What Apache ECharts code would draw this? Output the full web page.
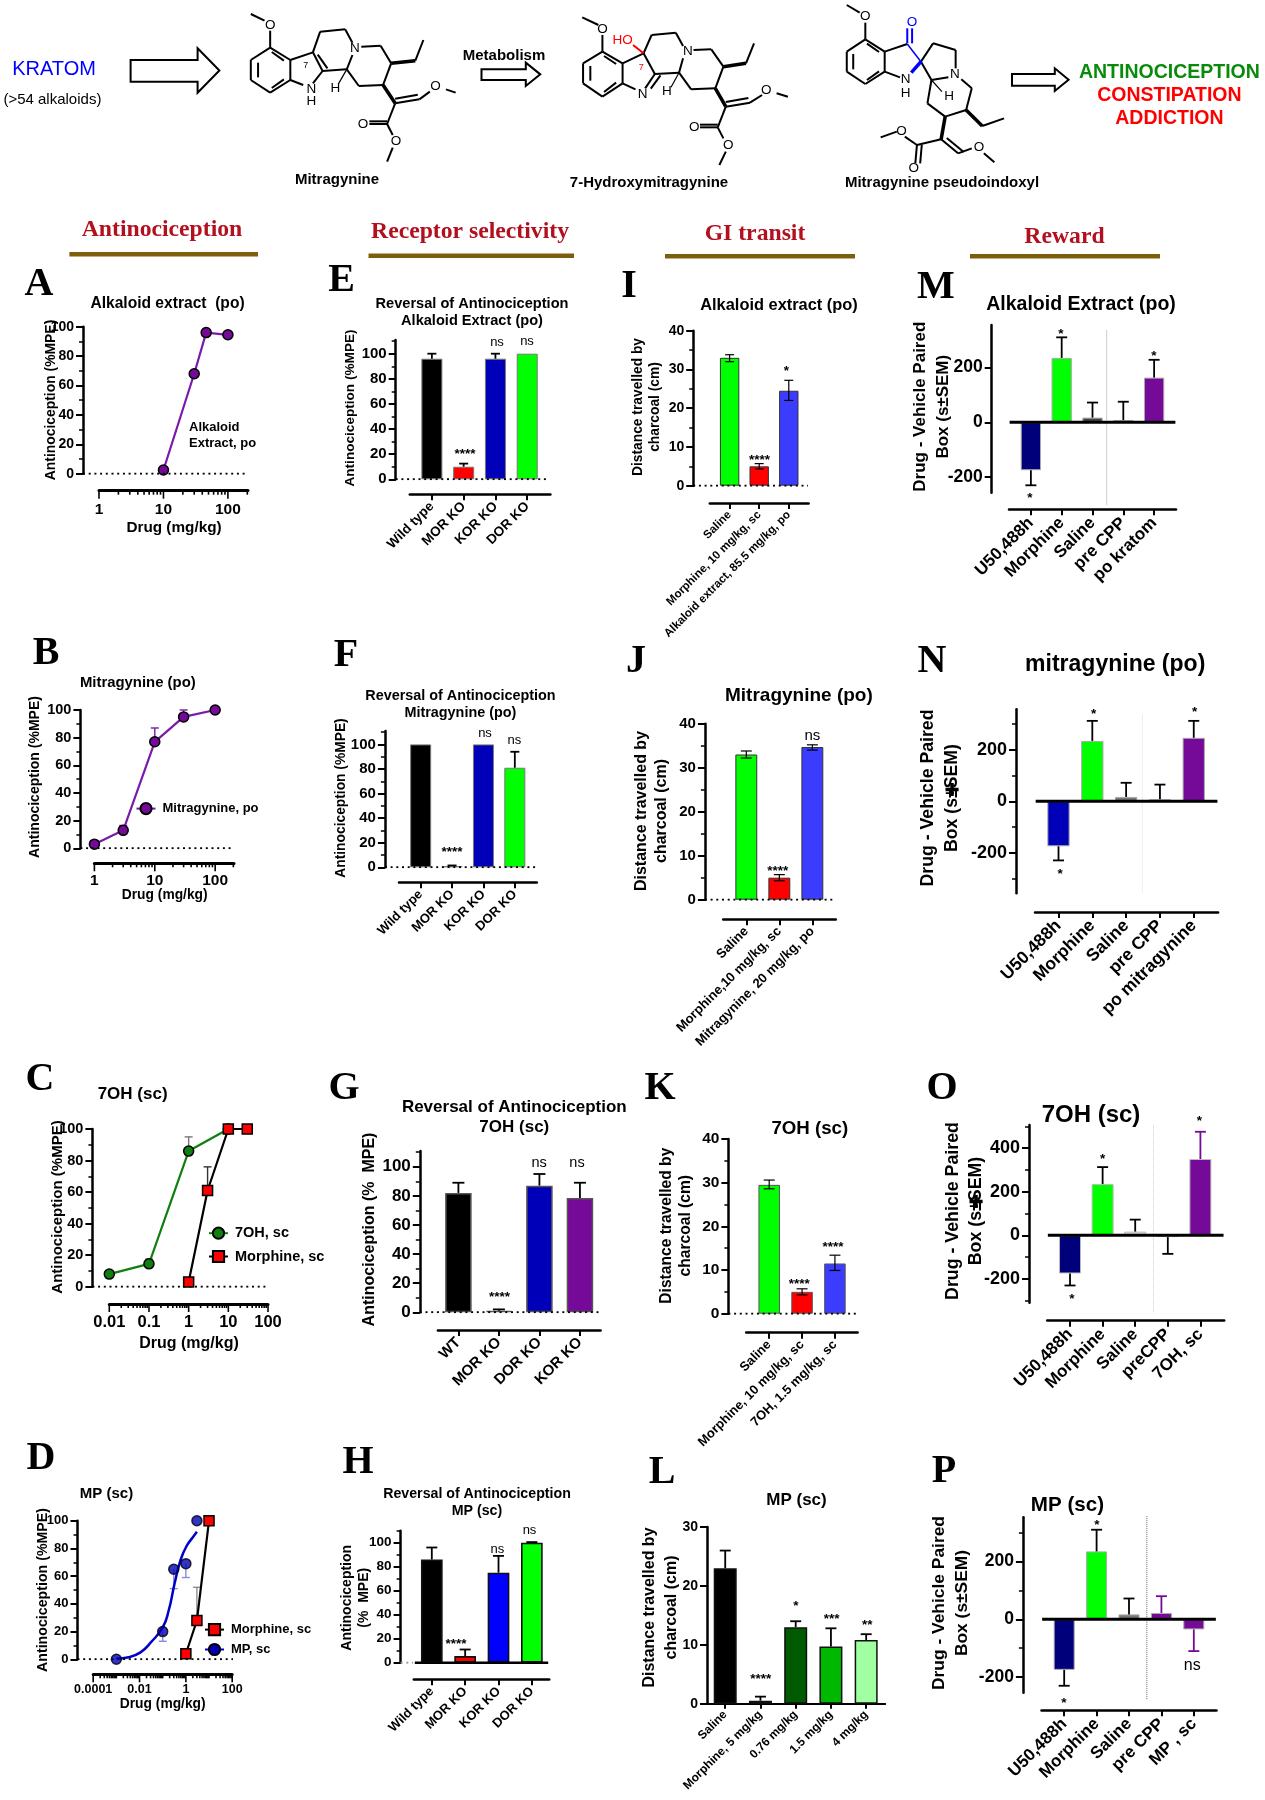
<!DOCTYPE html>
<html><head><meta charset="utf-8">
<style>html,body{margin:0;padding:0;background:#fff}#c{width:1265px;height:1800px}</style>
<script src="https://cdn.jsdelivr.net/npm/echarts@6/dist/echarts.min.js"></script>
</head><body><div id="c"></div>
<script>
// ---------- data ----------
const alkX=[10,30,46,100], alkY=[2.5,68,96,94.5];
const mitX=[1,3,10,30,100], mitY=[3,13,77,95,100], mitUp=[3,16.5,87,100,100];
const ohX=[0.01,0.1,1,10], ohY=[8,14.5,86,100], ohUp=[8,17.5,95,100];
const morCX=[1,3,10,30], morCY=[3,61,100,100], morCUp=[3,76,100,100];
const mpX=[0.001,0.1,0.3,1,3], mpY=[0,20,65,69,100], mpLow=[0,13,51,59,100];
const mpCurveX=[0.001,0.0034,0.011,0.03,0.1,0.18,0.33,0.6,1.1,2,3], mpCurveY=[0.5,1.5,5,12,23,35,55,72,82,88,92];
const morDX=[1,3,10], morDY=[4,28,100], morDUp=[4,52,100];

const koA=['Wild type','MOR KO','KOR KO','DOR KO'], koG=['WT','MOR KO','DOR KO','KOR KO'];
const eVal=[96,10,96,100], eUp=[100,12.5,100,100];
const fVal=[100,1,100,81], fUp=[100,1.5,100,94];
const gVal=[82,1,87,78.5], gUp=[89,2,95,89];
const hVal=[86,5.5,75,100], hUp=[96,11,89,100.5];

const iCat=['Saline','Morphine, 10 mg/kg, sc','Alkaloid extract, 85.5 mg/kg, po'];
const iVal=[33,5,24.5], iLo=[32,4.3,22], iHi=[33.8,5.7,27.2];
const jCat=['Saline','Morphine,10 mg/kg, sc','Mitragynine, 20 mg/kg, po'];
const jVal=[33,5,34.7], jLo=[32.2,4.3,34], jHi=[33.8,5.7,35.2];
const kCat=['Saline','Morphine, 10 mg/kg, sc','7OH, 1.5 mg/kg, sc'];
const kVal=[29.5,5,11.5], kLo=[28.6,4.3,9.9], kHi=[30.6,5.7,13.4];
const lCat=['Saline','Morphine, 5 mg/kg','0.76 mg/kg','1.5 mg/kg','4 mg/kg'];
const lVal=[23,0.5,13,9.7,10.8], lUp=[26,1.2,14,12.8,11.8];

const mCat=['U50,488h','Morphine','Saline','pre CPP','po kratom'];
const mVal=[-175,235,17,8,163], mErr=[-230,310,72,75,228];
const nCat=['U50,488h','Morphine','Saline','pre CPP','po mitragynine'];
const nVal=[-175,235,17,8,247], nErr=[-230,313,72,65,313];
const oCat=['U50,488h','Morphine','Saline','preCPP','7OH, sc'];
const oVal=[-175,235,17,-8,350], oErr=[-230,313,72,-85,475];
const pCat=['U50,488h','Morphine','Saline','pre CPP','MP , sc'];
const pVal=[-175,235,17,22,-35], pErr=[-230,310,72,80,-110];

const mpeMajor=[0,20,40,60,80,100], mpeMinor=[0,10,20,30,40,50,60,70,80,90,100,110];
const dist40=[0,10,20,30,40], dist40Minor=[0,5,10,15,20,25,30,35,40];
const GREEN='#00ff00',RED='#ff0000',BLUE='#0000b8',PUR='#760a98',NAVY='#00007a',VIOB='#3c3cff';

// ---------- option builders ----------
const SANS='"Liberation Sans",Arial,sans-serif', SERIF='"Liberation Serif","Times New Roman",serif';
const grid=[],xAxis=[],yAxis=[],series=[],els=[];

function T(x,y,text,size,o={}){
  els.push({type:'text',x,y,rotation:(o.r||0)*Math.PI/180,silent:true,z:o.z||20,
    style:{text,fill:o.c||'#000',font:`${o.w||'bold'} ${size}px ${o.f||SANS}`,
      align:o.a||'center',verticalAlign:'middle',textAlign:o.a||'center',textVerticalAlign:'middle',lineHeight:o.lh||Math.round(size*1.35)}});
}
function errRender(capHalf,widthPx,colors,defColor){
  return (params,api)=>{
    const both=api.value(3);
    if(api.value(1)===api.value(2)&&!both) return;
    const x=api.value(0),a=api.coord([x,api.value(1)]),b=api.coord([x,api.value(2)]);
    const stroke=(colors&&colors[params.dataIndex])||defColor||'#000', st={stroke,lineWidth:widthPx};
    const ch=[{type:'line',shape:{x1:a[0],y1:a[1],x2:b[0],y2:b[1]},style:st},
      {type:'line',shape:{x1:b[0]-capHalf,y1:b[1],x2:b[0]+capHalf,y2:b[1]},style:st}];
    if(both)ch.push({type:'line',shape:{x1:a[0]-capHalf,y1:a[1],x2:a[0]+capHalf,y2:a[1]},style:st});
    return {type:'group',children:ch};
  };
}
function frame(p){
  const gi=grid.length, xi=xAxis.length, yi=yAxis.length, h=p.bot-p.top;
  grid.push({left:p.ax,top:p.top,width:(p.dotEnd||p.xR)-p.ax,height:h});
  grid.push({left:p.xL,top:p.top,width:p.xR-p.xL,height:h});
  xAxis.push({gridIndex:gi,type:'value',min:0,max:1,show:false});
  yAxis.push({gridIndex:gi,type:'value',position:'left',min:p.ymin,max:p.ymax,splitLine:{show:false},
    axisLine:{show:true,onZero:false,lineStyle:{color:'#000',width:p.yw||2.5}},
    axisTick:{show:true,length:7,customValues:p.yMajor,lineStyle:{color:'#000',width:2}},
    axisLabel:{show:true,customValues:p.yMajor,margin:p.ym||9,color:'#000',fontFamily:SANS,fontWeight:'bold',fontSize:p.tf,showMinLabel:true,showMaxLabel:true}});
  yAxis.push({gridIndex:gi,type:'value',position:'left',min:p.ymin,max:p.ymax,splitLine:{show:false},
    axisLine:{show:false},axisLabel:{show:false},
    axisTick:{show:!!p.yMinor,length:4,customValues:p.yMinor||[],lineStyle:{color:'#000',width:1.5}}});
  yAxis.push({gridIndex:gi+1,type:'value',min:p.ymin,max:p.ymax,show:false});
  if(p.dot!==false&&p.dotEnd) series.push({type:'line',xAxisIndex:xi,yAxisIndex:yi,data:[[0,0],[1,0]],symbol:'none',silent:true,z:5,
    lineStyle:{color:p.dotColor||'#000',width:2,type:[2,3.7]}});
  return {xi:xi+1,yi:yi+2,gi:gi+1};
}
function barPanel(p){
  const f=frame(p), ticks=p.cats.map((_,i)=>i);
  const xmin=p.xmin,xmax=p.xmax;
  xAxis.push({gridIndex:f.gi,type:'value',position:'bottom',min:xmin,max:xmax,offset:p.xAxisY-p.bot,splitLine:{show:false},
    axisLine:{onZero:false,lineStyle:{color:'#000',width:p.xw||2.5}},
    axisTick:{show:true,length:p.xt||6,customValues:ticks,lineStyle:{color:'#000',width:2}},
    axisLabel:{show:true,customValues:ticks,interval:0,rotate:45,margin:p.xm||10,color:'#000',fontFamily:SANS,fontWeight:'bold',fontSize:p.lf,
      formatter:v=>p.cats[Math.round(v)],hideOverlap:false,showMinLabel:true,showMaxLabel:true}});
  series.push({type:'bar',xAxisIndex:f.xi,yAxisIndex:f.yi,barWidth:p.barW,silent:true,z:2,
    data:p.vals.map((v,i)=>({value:[i,v],itemStyle:{color:p.colors[i],borderColor:p.border||'#333',borderWidth:p.bw==null?1:p.bw}}))});
  const errs=p.vals.map((v,i)=>p.lo?[i,p.lo[i],p.hi[i],1]:[i,v,p.hi[i],0]);
  series.push({type:'custom',xAxisIndex:f.xi,yAxisIndex:f.yi,silent:true,z:3,encode:{x:0,y:[1,2]},data:errs,
    renderItem:errRender(p.cap||5.5,p.ew||1.8,p.errColors)});
  if(p.zero) series.push({type:'line',xAxisIndex:f.xi,yAxisIndex:f.yi,silent:true,z:6,symbol:'none',clip:false,
    data:[[xmin+(p.zeroPad||0),0],[xmax-(p.zeroPad||0),0]],lineStyle:{color:'#000',width:p.zero}});
  if(p.sep) series.push({type:'line',xAxisIndex:f.xi,yAxisIndex:f.yi,silent:true,z:1,symbol:'none',clip:false,
    data:[[p.sep.x,p.sep.hi],[p.sep.x,p.sep.lo]],lineStyle:{color:p.sep.c,width:p.sep.w||1,type:p.sep.t||'solid'}});
}
const decadeMult=[2,3,4,5,6,7,8,9];
function logPanel(p){
  const f=frame(p), lo=Math.log10(p.xmin), hi=Math.ceil(Math.log10(p.xmax));
  const ticks=[];
  for(let k=lo;k<=hi;k++){
    const d=Math.pow(10,k);
    const isMajor=p.labels.some(l=>Math.abs(Math.log10(l)-k)<1e-6);
    if(d<=p.xmax) ticks.push([d,isMajor?8:4]);
    decadeMult.forEach(m=>{if(m*d<=p.xmax)ticks.push([m*d,4]);});
  }
  xAxis.push({gridIndex:f.gi,type:'log',logBase:10,position:'bottom',min:p.xmin,max:p.xmax,offset:p.xAxisY-p.bot,splitLine:{show:false},
    axisLine:{onZero:false,lineStyle:{color:'#000',width:3}},axisTick:{show:false},minorTick:{show:false},
    axisLabel:{show:true,interval:0,margin:p.xm||11,color:'#000',fontFamily:SANS,fontWeight:'bold',fontSize:p.xf,showMinLabel:true,showMaxLabel:true,
      formatter:v=>{const hit=p.labels.find(l=>Math.abs(Math.log10(l)-Math.log10(v))<1e-6);return hit==null?'':String(hit);}}});
  const off=p.xAxisY-p.bot, yb=p.ymin;
  series.push({type:'custom',xAxisIndex:f.xi,yAxisIndex:f.yi,silent:true,z:3,encode:{x:0,y:1},data:ticks.map(t=>[t[0],yb,t[1]]),
    renderItem:(params,api)=>{const c=api.coord([api.value(0),yb]);const y=c[1]+off;
      return {type:'line',shape:{x1:c[0],y1:y,x2:c[0],y2:y+api.value(2)},style:{stroke:'#000',lineWidth:1.6}};}});
  (p.lines||[]).forEach(s=>{
    series.push({type:s.scatter?'scatter':'line',name:s.name,xAxisIndex:f.xi,yAxisIndex:f.yi,silent:true,clip:false,z:s.z||4,smooth:s.smooth||false,
      symbol:s.sym||'circle',showSymbol:s.noSym?false:true,symbolSize:s.size||10,
      data:s.x.map((v,i)=>[v,s.y[i]]),
      lineStyle:{color:s.line,width:s.lw||2.2},itemStyle:{color:s.fill,borderColor:'#000',borderWidth:1.5}});
    if(s.err) series.push({type:'custom',xAxisIndex:f.xi,yAxisIndex:f.yi,silent:true,z:(s.z||4)-1,encode:{x:0,y:[1,2]},
      data:s.x.map((v,i)=>[v,s.y[i],s.err[i],0]).filter(d=>d[1]!==d[2]),
      renderItem:errRender(s.errCap||4,s.errW||1.4,null,s.errC||s.line)});
  });
}

// ---------- antinociception panels ----------
logPanel({ax:83,top:326.7,bot:473.7,ymin:0,ymax:100,yMajor:mpeMajor,yMinor:mpeMinor.slice(0,11),tf:14,dotEnd:247,
  xL:99,xR:248,xAxisY:490.7,xmin:1,xmax:205,labels:[1,10,100],xf:15.5,
  lines:[{name:'Alkaloid Extract, po',x:alkX,y:alkY,line:'#7a1aa8',fill:PUR}]});
logPanel({ax:80.4,top:710,bot:848.3,ymin:0,ymax:100,yMajor:mpeMajor,yMinor:mpeMinor.slice(0,11),tf:14.5,dotEnd:233,
  xL:94.4,xR:234,xAxisY:863.3,xmin:1,xmax:205,labels:[1,10,100],xf:15.5,xm:9,
  lines:[{name:'Mitragynine, po',x:mitX,y:mitY,err:mitUp,line:'#7a1aa8',fill:PUR}]});
logPanel({ax:92.4,top:1129,bot:1286.7,ymin:0,ymax:100,yMajor:mpeMajor,yMinor:mpeMinor.slice(0,11),tf:14.5,dotEnd:268,
  xL:109.3,xR:268,xAxisY:1304,xmin:0.01,xmax:100,labels:[0.01,0.1,1,10,100],xf:16.5,xm:10,
  lines:[{name:'7OH, sc',x:ohX,y:ohY,err:ohUp,errC:'#777',line:'#0f7f0f',fill:'#0f7f0f'},
         {name:'Morphine, sc',x:morCX,y:morCY,err:morCUp,errC:'#333',sym:'rect',line:'#000',fill:RED,z:5}]});
logPanel({ax:77.5,top:1520.7,bot:1659.3,ymin:0,ymax:100,yMajor:mpeMajor,yMinor:mpeMinor.slice(0,11),tf:13,dotEnd:233,
  xL:93.2,xR:232.2,xAxisY:1674.3,xmin:0.0001,xmax:100,labels:[0.0001,0.01,1,100],xf:12.5,xm:9,
  lines:[{name:'Morphine, sc',x:morDX,y:morDY,err:morDUp,errC:'#666',errW:1,sym:'rect',line:'#000',fill:RED,z:5},
         {name:'MP, sc',x:mpCurveX,y:mpCurveY,noSym:true,smooth:true,line:'#0000c8',fill:BLUE,lw:2.5},
         {name:'MP points',scatter:true,x:mpX,y:mpY,err:mpLow,errC:'#8a8ae0',line:'#0000c8',fill:BLUE,z:5}]});

// ---------- receptor selectivity ----------
barPanel({ax:395.7,top:340,bot:479.3,ymin:0,ymax:110.9,yMajor:mpeMajor,yMinor:mpeMinor,tf:15,dotEnd:549,
  xL:409.8,xR:550.4,xAxisY:494.3,xmin:-0.695,xmax:3.73,cats:koA,lf:13.5,vals:eVal,hi:eUp,barW:21,colors:['#000',RED,BLUE,GREEN],border:'#777',cap:4.5});
barPanel({ax:384.9,top:731,bot:867.3,ymin:0,ymax:110.9,yMajor:mpeMajor,yMinor:mpeMinor,tf:15,dotEnd:536,
  xL:399,xR:536.8,xAxisY:882.3,xmin:-0.69,xmax:3.7,cats:koA,lf:13,vals:fVal,hi:fUp,barW:21,colors:['#000',RED,BLUE,GREEN],border:'#777',cap:4.5});
barPanel({ax:419.8,top:1151,bot:1312.3,ymin:0,ymax:110.8,yMajor:mpeMajor,yMinor:mpeMinor,tf:17,dotEnd:599,
  xL:437.9,xR:600.6,xAxisY:1330,xmin:-0.506,xmax:3.51,cats:koG,lf:15,vals:gVal,hi:gUp,barW:26.5,colors:['#000',RED,BLUE,PUR],border:'#555',bw:1.5,cap:6});
barPanel({ax:400.6,top:1530.7,bot:1662.7,ymin:0,ymax:110,yMajor:mpeMajor,yMinor:mpeMinor,tf:13.5,dotEnd:413,dotColor:'#999',
  xL:413.8,xR:549.2,xAxisY:1679.3,xmin:-0.54,xmax:3.52,cats:koA,lf:13,vals:hVal,hi:hUp,barW:21.7,colors:['#000',RED,'#0000ff',GREEN],border:'#111',bw:1.6,cap:5.5,zero:2.5,zeroPad:0.03});

// ---------- GI transit ----------
barPanel({ax:693.2,top:330.7,bot:485.7,ymin:0,ymax:40,yMajor:dist40,yMinor:dist40Minor,tf:14,dotEnd:808,
  xL:709.8,xR:808.6,xAxisY:503,xmin:-0.67,xmax:2.67,cats:iCat,lf:11.6,vals:iVal,lo:iLo,hi:iHi,barW:19.4,colors:[GREEN,RED,VIOB],cap:4.5,ew:1.2});
barPanel({ax:704.9,top:723.7,bot:899.7,ymin:0,ymax:40,yMajor:dist40,yMinor:dist40Minor,tf:15,dotEnd:835,
  xL:723.2,xR:835.8,xAxisY:919.3,xmin:-0.7,xmax:2.71,cats:jCat,lf:13.2,vals:jVal,lo:jLo,hi:jHi,barW:21.9,colors:[GREEN,RED,VIOB],cap:5.5,ew:1.2});
barPanel({ax:728.4,top:1139,bot:1313.7,ymin:0,ymax:40,yMajor:dist40,yMinor:dist40Minor,tf:15.5,dotEnd:857,
  xL:746.2,xR:857.6,xAxisY:1332.7,xmin:-0.7,xmax:2.69,cats:kCat,lf:13,vals:kVal,lo:kLo,hi:kHi,barW:21.5,colors:[GREEN,RED,VIOB],border:'#555',cap:5.5,ew:1.2});
barPanel({ax:707,top:1527,bot:1703.7,ymin:0,ymax:30,yMajor:[0,10,20,30],tf:14,dot:false,
  xL:707,xR:885.2,xAxisY:1703.7,xmin:-0.517,xmax:4.54,cats:lCat,lf:12,vals:lVal,hi:lUp,barW:23,colors:['#000','#0000c0','#005a00','#00b800','#a0ffa0'],border:'#111',bw:1.5,cap:5.5,xw:2,xt:5,xm:9});

// ---------- reward ----------
barPanel({ax:991.7,top:325,bot:492.7,ymin:-257,ymax:355,yMajor:[-200,0,200],tf:17.5,yw:2.5,
  xL:1009,xR:1176,xAxisY:509.3,xmin:-0.71,xmax:4.71,cats:mCat,lf:17,vals:mVal,hi:mErr,barW:20.3,colors:[NAVY,GREEN,'#444','#666',PUR],border:'#aaa',cap:5.5,zero:3,zeroPad:0.02,
  sep:{x:2.46,hi:337,lo:-302,c:'#ccc'},xm:11});
barPanel({ax:1016,top:709.3,bot:893.3,ymin:-358,ymax:358,yMajor:[-200,0,200],yMinor:[-300,-100,100,300],tf:18,
  xL:1035,xR:1218.1,xAxisY:912,xmin:-0.695,xmax:4.72,cats:nCat,lf:17.5,vals:nVal,hi:nErr,barW:22.3,colors:[BLUE,GREEN,'#777','#999',PUR],border:'#aaa',cap:5.5,zero:3,zeroPad:0.02,
  sep:{x:2.48,hi:337,lo:-357,c:'#ddd',t:'dotted'},xm:11});
barPanel({ax:1029,top:1125,bot:1302.7,ymin:-309,ymax:506,yMajor:[-200,0,200,400],yMinor:[-300,-100,100,300,500],tf:18,
  xL:1047.2,xR:1224.2,xAxisY:1320.7,xmin:-0.7,xmax:4.73,cats:oCat,lf:17,vals:oVal,hi:oErr,barW:22,colors:[NAVY,GREEN,'#ddd','#ddd',PUR],border:'#bbb',cap:5.5,zero:3,zeroPad:0.02,
  errColors:['#000','#000','#000','#000',PUR],sep:{x:2.56,hi:505,lo:-358,c:'#ccc',t:'dotted'},xm:11});
barPanel({ax:1022.9,top:1517.3,bot:1692.7,ymin:-254,ymax:353,yMajor:[-200,0,200],yMinor:[-100,100,300],tf:17.5,
  xL:1041.5,xR:1216.5,xAxisY:1710.3,xmin:-0.7,xmax:4.7,cats:pCat,lf:17,vals:pVal,hi:pErr,barW:21,colors:[NAVY,GREEN,'#777',PUR,PUR],border:'#aaa',cap:5.5,zero:3,zeroPad:0.02,
  errColors:['#000','#000','#000',PUR,PUR],sep:{x:2.55,hi:357,lo:-277,c:'#666',t:'dotted'},xm:11});

// ---------- panel text ----------
const yMPE='Antinociception (%MPE)', yDist='Distance travelled by\ncharcoal (cm)', yDrug='Drug - Vehicle Paired\nBox (s±SEM)', xDrug='Drug (mg/kg)';
[['A',39,285],['E',341.5,281],['I',629,287],['M',936,288],['B',46,654],['F',346,656],['J',636,662],['N',932,662],
 ['C',40,1080],['G',344,1089],['K',660,1089],['O',942,1089],['D',41,1459],['H',358,1463],['L',662,1473],['P',944,1472]]
 .forEach(l=>T(l[1],l[2],l[0],40,{f:SERIF}));
[['Antinociception',162,230],['Receptor selectivity',470,232],['GI transit',755,234],['Reward',1064.5,237]].forEach(h=>T(h[1],h[2],h[0],23.7,{f:SERIF,c:'#b3101f'}));
[[69.4,258,254.3],[368.5,574,255.7],[665,855,256.3],[970,1160,256.3]].forEach(b=>els.push({type:'rect',silent:true,z:10,
  shape:{x:b[0],y:b[2]-2.2,width:b[1]-b[0],height:4.4},style:{fill:'#7d5e0a'}}));
// line panels
T(167.5,303.3,'Alkaloid extract  (po)',15.6);T(51,400,yMPE,13.9,{r:90});T(174,527.7,xDrug,15.3);
T(189,435.7,'Alkaloid\nExtract, po',13,{a:'left',lh:16});
T(137.8,683.3,'Mitragynine (po)',14.9);T(35.4,777,yMPE,14,{r:90});T(164.7,895,xDrug,13.8);
T(132.6,1094.3,'7OH (sc)',17);T(58,1207,yMPE,15,{r:90});T(189,1343.3,xDrug,16);
T(106.5,1494.3,'MP (sc)',15);T(43,1590,yMPE,14.2,{r:90});T(162.7,1704,xDrug,13.8);
// receptor panels
T(472,312.8,'Reversal of Antinociception\nAlkaloid Extract (po)',14.6,{lh:17});T(350.7,408,yMPE,13.6,{r:90});
T(460.4,704.7,'Reversal of Antinociception\nMitragynine (po)',14.4,{lh:17});T(341.5,798,yMPE,13.8,{r:90});
T(514.3,1117.7,'Reversal of Antinociception\n7OH (sc)',17,{lh:20});T(369.6,1229.5,'Antinociception (%  MPE)',16,{r:90});
T(477,1502.5,'Reversal of Antinociception\nMP (sc)',14.2,{lh:16.4});T(355.6,1597.8,'Antinociception\n(%  MPE)',14,{r:90,lh:17});
// GI panels
T(779,305.7,'Alkaloid extract (po)',16.4);T(646.5,407,yDist,13.8,{r:90,lh:17});
T(798.9,695.7,'Mitragynine (po)',19);T(652,811,yDist,16,{r:90,lh:20});
T(809.8,1129,'7OH (sc)',18.7);T(676,1225.7,yDist,15.6,{r:90,lh:19.6});
T(796.5,1500.7,'MP (sc)',17);T(660.5,1607.5,yDist,16,{r:90,lh:22});
// reward panels
T(1081,304.3,'Alkaloid Extract (po)',19.5);T(932,406.7,yDrug,17,{r:90,lh:23});
T(1115.2,664.3,'mitragynine (po)',23);T(940,798,yDrug,17.7,{r:90,lh:24});T(952,791.7,'✚',18,{f:'"DejaVu Sans"'});
T(1091,1115.7,'7OH (sc)',24);T(964.5,1211,yDrug,17.8,{r:90,lh:23.5});T(976,1203.3,'✚',18,{f:'"DejaVu Sans"'});
T(1067.4,1505,'MP (sc)',20.6);T(950.6,1603,yDrug,17.4,{r:90,lh:23});
// significance marks
[[465,451,'****'],[452,849,'****'],[499.4,1294,'****'],[456,1641,'****'],[759.6,457,'****'],[786.3,368,'*'],[777.8,868,'****'],
 [799.3,1281,'****'],[832.9,1244,'****'],[760.8,1676,'****'],[796,1603,'*'],[831.7,1616,'***'],[867.3,1622,'**'],
 [1061,331,'*'],[1154,353,'*'],[1030,495,'*'],[1093.7,711,'*'],[1194.6,709,'*'],[1060.1,871,'*'],
 [1102.7,1156,'*'],[1199.5,1118,'*'],[1071.9,1296,'*'],[1097,1522,'*'],[1063.8,1700,'*']]
 .forEach(s=>T(s[0],s[1]+3,s[2],13.5));
[[497,342.7,13],[527,341.7,13],[485,733.7,13],[514.3,740.7,13],[539.2,1162.7,14.5],[577,1162.7,14.5],[497.4,1549.3,13],[529.5,1530,13],[812.3,736,15],[1192.2,1666,16]]
 .forEach(s=>T(s[0],s[1],'ns',s[2],{w:'normal'}));

// ---------- header: names, arrows, structures ----------
T(54,69.3,'KRATOM',20,{w:'normal',c:'#0000ff'});T(52.4,100,'(>54 alkaloids)',15,{w:'normal'});
T(504,56,'Metabolism',15);
T(1169.4,72.7,'ANTINOCICEPTION',19.5,{c:'#0a8a0a'});T(1169.4,96,'CONSTIPATION',19.5,{c:'#ff0000'});T(1169.4,118.7,'ADDICTION',19.5,{c:'#ff0000'});
T(337,180.3,'Mitragynine',15);T(649,182.7,'7-Hydroxymitragynine',15);T(942,183,'Mitragynine pseudoindoxyl',15);
function arrow(x1,x2,hx,yt,yb,st,sb,lw){
  const ym=(yt+yb)/2;
  els.push({type:'polygon',silent:true,z:10,shape:{points:[[x1,st],[hx,st],[hx,yt],[x2,ym],[hx,yb],[hx,sb],[x1,sb]]},style:{fill:'#fff',stroke:'#000',lineWidth:lw}});
}
arrow(130.6,219.4,197.6,48.3,92.7,60,81.7,2);
arrow(481.5,540.3,525.8,62.7,86,69.3,80,2);
arrow(1012,1068.6,1054.8,68.3,91,74,85.7,2);

const sx=v=>v/1.24, sy=v=>v/3;
function bonds(list,color,w){
  list.forEach(b=>els.push({type:'line',silent:true,z:10,shape:{x1:sx(b[0]),y1:sy(b[1]),x2:sx(b[2]),y2:sy(b[3])},style:{stroke:color||'#000',lineWidth:w||2}}));
}
function atoms(list,size,color){list.forEach(a=>T(sx(a[0]),sy(a[1]),a[2],size,{w:a[3]||'normal',c:color||'#000',z:12}));}

bonds([[311,42,328,62],[335,92,335,143],[335,143,360,180],[360,180,360,240],[360,240,335,278],[335,278,311,240],[311,240,311,180],[311,180,335,143],
 [320,188,320,232],[337,156,352,182],[337,264,352,238],[360,180,388,157],[388,157,400,213],[400,213,388,250],[360,240,376,255],[394,164,406,205],
 [388,157,397,95],[397,95,428,88],[428,88,437,128],[437,165,430,208],[430,208,400,213],[448,140,472,137],[472,137,485,190],[485,190,475,255],[475,255,445,258],[445,258,430,208],
 [515,182,525,120],[490,310,520,298],[490,296,518,284],[520,298,533,275],[553,268,565,278],[490,310,480,372],[480,372,458,372],[480,364,458,364],[480,372,487,405],[487,443,480,485]]);
bonds([[485,190,515,182],[475,255,490,310]],'#000',3.5);
bonds([[430,208,420,250]],'#000',1.2);
atoms([[335,76,'O'],[440,145,'N'],[386,268,'N'],[386,305,'H'],[416,265,'H'],[540,258,'O'],[450,372,'O'],[491,425,'O']],13.5);
atoms([[379,197,'7']],9);

bonds([[722,52,742,75],[747,105,747,155],[747,155,772,190],[772,190,772,250],[772,250,747,290],[747,290,723,250],[723,250,723,190],[723,190,747,155],
 [732,198,732,242],[749,168,764,192],[749,276,764,248],[772,190,798,160],[798,160,812,222],[812,222,800,265],[772,250,788,268],[819,226,807,266],
 [798,160,808,105],[808,105,838,98],[838,98,847,138],[847,175,842,218],[842,218,812,222],[860,150,882,148],[882,148,897,200],[897,200,887,265],[887,265,857,268],[857,268,842,218],
 [925,190,935,130],[900,320,930,308],[900,306,928,294],[930,308,945,285],[963,280,977,290],[900,320,890,382],[890,382,868,382],[890,374,868,374],[890,382,897,415],[900,455,892,495]]);
bonds([[897,200,925,190],[887,265,900,320]],'#000',3.5);
bonds([[842,218,832,262]],'#000',1.2);
bonds([[785,135,798,160]],'#ff0000',2);
atoms([[747,88,'O'],[853,155,'N'],[797,282,'N'],[827,275,'H'],[950,270,'O'],[861,382,'O'],[903,435,'O']],13.5);
atoms([[772,120,'HO']],13.5,'#ff0000');atoms([[795,202,'7']],9,'#ff0000');

bonds([[1050,15,1066,38],[1073,68,1073,118],[1073,118,1097,155],[1097,155,1097,215],[1097,215,1073,252],[1073,252,1050,215],[1050,215,1050,155],[1050,155,1073,118],
 [1058,162,1058,208],[1075,131,1090,156],[1075,240,1090,214],[1097,155,1125,132],[1097,215,1116,232],
 [1142,185,1157,130],[1157,130,1185,150],[1185,150,1185,205],[1176,232,1155,240],[1155,240,1142,185],[1155,240,1150,310],[1150,310,1172,350],[1172,350,1198,330],[1198,330,1205,265],[1205,265,1192,238],
 [1218,378,1245,355],[1167,418,1188,460],[1174,414,1195,456],[1188,460,1205,445],[1220,460,1233,487],[1167,418,1137,435],[1137,435,1135,490],[1143,435,1141,490],[1137,435,1122,410],[1112,395,1092,412]]);
bonds([[1198,330,1218,378],[1172,350,1167,418]],'#000',3.5);
bonds([[1155,240,1168,275]],'#000',1.2);
bonds([[1125,130,1125,85],[1131,130,1131,85]],'#0000ff',2);
bonds([[1142,185,1130,218]],'#0000ff',3.5);
bonds([[1125,132,1142,185]],'#0000ff',1.5);
atoms([[1073,50,'O'],[1123,238,'N'],[1123,280,'H'],[1184,222,'N'],[1177,290,'H'],[1214,442,'O'],[1133,505,'O'],[1118,395,'O']],13.5);
atoms([[1131,67,'O']],13.5,'#0000ff');

const legend=[
 {left:135.5,top:802,orient:'vertical',data:['Mitragynine, po'],fs:13},
 {left:208,top:1225.7,orient:'vertical',data:['7OH, sc','Morphine, sc'],fs:14.5,gap:8.3},
 {left:204,top:1623,orient:'vertical',data:['Morphine, sc','MP, sc'],fs:13,gap:6.7}
].map(l=>({left:l.left,top:l.top,orient:l.orient,data:l.data,selectedMode:false,padding:0,itemWidth:19,itemHeight:14,itemGap:l.gap||8,
  textStyle:{color:'#000',fontFamily:SANS,fontWeight:'bold',fontSize:l.fs,padding:[0,0,0,2]}}));

const chart=echarts.init(document.getElementById('c'),null,{renderer:'canvas',width:1265,height:1800});
chart.setOption({animation:false,backgroundColor:'#fff',tooltip:{show:false},grid,xAxis,yAxis,series,legend,graphic:{elements:els}});
</script></body></html>
